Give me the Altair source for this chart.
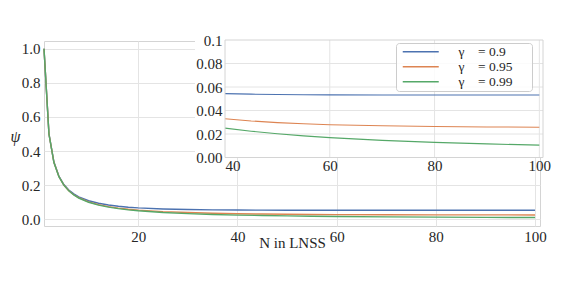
import altair as alt
import pandas as pd

# ---- data ----
N_values = [1, 2, 3, 4, 5, 6, 7, 8, 10, 12, 14, 16, 18, 20, 25, 30, 35, 40, 45, 50, 55, 60, 70, 80, 90, 100]
psi_gamma_090 = [1.0, 0.501, 0.336, 0.254, 0.204, 0.172, 0.149, 0.132, 0.109, 0.094, 0.084, 0.0766, 0.0712, 0.0672,
                 0.0608, 0.0574, 0.0555, 0.0544, 0.0539, 0.0536, 0.0534, 0.0533, 0.0532, 0.0532, 0.0532, 0.0532]
psi_gamma_095 = [1.0, 0.500, 0.334, 0.251, 0.201, 0.168, 0.144, 0.127, 0.102, 0.086, 0.0745, 0.066, 0.0594, 0.0543,
                 0.0453, 0.0397, 0.0358, 0.0330, 0.0311, 0.0297, 0.0287, 0.0279, 0.0270, 0.0264, 0.0260, 0.0258]
psi_gamma_099 = [1.0, 0.500, 0.333, 0.250, 0.200, 0.167, 0.143, 0.125, 0.100, 0.083, 0.0715, 0.0626, 0.0557, 0.0502,
                 0.0402, 0.0335, 0.0287, 0.0250, 0.0224, 0.0202, 0.0184, 0.0169, 0.0146, 0.0129, 0.0116, 0.0105]

NB = "\u00a0"
END = "\u2800"
series_labels = [f"γ{NB*4}= 0.9{NB*2}{END}", f"γ{NB*4}= 0.95{NB*2}{END}", f"γ{NB*4}= 0.99{NB*2}{END}"]
series_colors = ["#4C72B0", "#DD8452", "#55A868"]

main_x_ticks = [20, 40, 60, 80, 100]
main_y_ticks = [0.0, 0.2, 0.4, 0.6, 0.8, 1.0]
main_xlim = [1, 101]
main_ylim = [-0.039, 1.045]

inset_x_ticks = [40, 60, 80, 100]
inset_y_ticks = [0.0, 0.02, 0.04, 0.06, 0.08, 0.1]
inset_xlim = [40, 100.7]
inset_ylim = [0.0, 0.1]

# ---- tables ----
rows = []
for lab, vals in zip(series_labels, [psi_gamma_090, psi_gamma_095, psi_gamma_099]):
    for n, v in zip(N_values, vals):
        rows.append({"N": n, "psi": v, "label": lab})
df = pd.DataFrame(rows)

bg_df = pd.DataFrame({"x0": [inset_xlim[0]], "x1": [inset_xlim[1]], "y0": [inset_ylim[0]], "y1": [inset_ylim[1]]})
vgrid_df = pd.DataFrame({"x": inset_x_ticks[1:], "y0": inset_ylim[0], "y1": inset_ylim[1]})
hgrid_df = pd.DataFrame({"y": inset_y_ticks[1:-1], "x0": inset_xlim[0], "x1": inset_xlim[1]})

FONT = "Liberation Serif"
TXT = "#262626"
GRID = "#e4e4e4"
SPINE = "#d4d4d4"

W, H = 496, 185

color = alt.Color(
    "label:N",
    scale=alt.Scale(domain=series_labels, range=series_colors),
    legend=alt.Legend(
        title=None, orient="none", legendX=352, legendY=2,
        symbolType="M-0.4,0H6.8", symbolSize=100, symbolStrokeWidth=1.3,
        labelOffset=47, padding=2, rowPadding=0,
        labelFont=FONT, labelFontSize=13.5, labelColor=TXT,
        fillColor="rgba(255,255,255,0.85)", strokeColor="#cccccc", cornerRadius=3,
    ),
)

main_x_axis = alt.Axis(values=main_x_ticks, format="d", grid=True, gridColor=GRID, domain=False, ticks=False,
                       labelPadding=3, labelFont=FONT, labelFontSize=15, labelColor=TXT, labelFlush=False,
                       title="N in LNSS", titleFont=FONT, titleFontSize=15, titleColor=TXT,
                       titleFontWeight="normal", titleY=9, titleBaseline="top")
main_y_axis = alt.Axis(values=main_y_ticks, format=".1f", grid=True, gridColor=GRID, domain=False, ticks=False,
                       labelPadding=4, labelFont=FONT, labelFontSize=15, labelColor=TXT, labelFlush=False,
                       title="ψ", titleFont=FONT, titleAngle=0, titleFontStyle="italic", titleFontSize=16,
                       titleColor=TXT, titleFontWeight="normal",
                       titleX=-29, titleY=95, titleBaseline="middle", titleAlign="center")

mx = alt.Scale(domain=main_xlim, nice=False, zero=False)
my = alt.Scale(domain=main_ylim, nice=False, zero=False)

main = alt.Chart(df).mark_line(strokeWidth=1.4).encode(
    x=alt.X("N:Q", scale=mx, axis=main_x_axis),
    y=alt.Y("psi:Q", scale=my, axis=main_y_axis),
    color=color,
)

ix = alt.Scale(domain=inset_xlim, range=[181, 499], nice=False, zero=False)
iy = alt.Scale(domain=inset_ylim, range=[116.5, -1], nice=False, zero=False)

ix_axis = alt.Axis(values=inset_x_ticks, format="d", orient="bottom", offset=-(H - 116.5), grid=False,
                   domain=False, ticks=False, labelPadding=1, labelFont=FONT, labelFontSize=15,
                   labelColor=TXT, labelFlush=True, title=None, zindex=2)
iy_axis = alt.Axis(values=inset_y_ticks, orient="left", offset=-181, grid=False, domain=False, ticks=False,
                   labelPadding=3, labelFont=FONT, labelFontSize=15, labelColor=TXT, labelFlush=False,
                   title=None, zindex=2,
                   labelExpr="datum.value >= 0.099 ? '0.1' : format(datum.value, '.2f')")

inset_bg = alt.Chart(bg_df).mark_rect(color="white", xOffset=-30).encode(
    x=alt.X("x0:Q", scale=ix, axis=ix_axis), x2="x1",
    y=alt.Y("y0:Q", scale=iy, axis=iy_axis), y2="y1",
)
inset_vgrid = alt.Chart(vgrid_df).mark_rule(color=GRID, strokeWidth=1).encode(
    x=alt.X("x:Q", scale=ix, axis=ix_axis),
    y=alt.Y("y0:Q", scale=iy, axis=iy_axis), y2="y1",
)
inset_hgrid = alt.Chart(hgrid_df).mark_rule(color=GRID, strokeWidth=1).encode(
    y=alt.Y("y:Q", scale=iy, axis=iy_axis),
    x=alt.X("x0:Q", scale=ix, axis=ix_axis), x2="x1",
)
inset_lines = alt.Chart(df).transform_filter("datum.N >= 40").mark_line(strokeWidth=1.1).encode(
    x=alt.X("N:Q", scale=ix, axis=ix_axis),
    y=alt.Y("psi:Q", scale=iy, axis=iy_axis),
    color=color,
)
inset_frame = alt.Chart(bg_df).mark_rect(fillOpacity=0, stroke=SPINE, strokeWidth=1).encode(
    x=alt.X("x0:Q", scale=ix, axis=ix_axis), x2="x1",
    y=alt.Y("y0:Q", scale=iy, axis=iy_axis), y2="y1",
)

inset = alt.layer(inset_bg, inset_vgrid, inset_hgrid, inset_lines, inset_frame)

chart = (
    alt.layer(main, inset)
    .resolve_scale(x="independent", y="independent")
    .properties(
        width=W, height=H,
        padding={"left": 36, "top": 33, "right": 30, "bottom": 40},
        autosize=alt.AutoSizeParams(type="none"),
        background="white",
    )
    .configure_view(stroke=SPINE, strokeWidth=1)
)

chart.save("out.html", embed_options={"renderer": "svg", "actions": False})
